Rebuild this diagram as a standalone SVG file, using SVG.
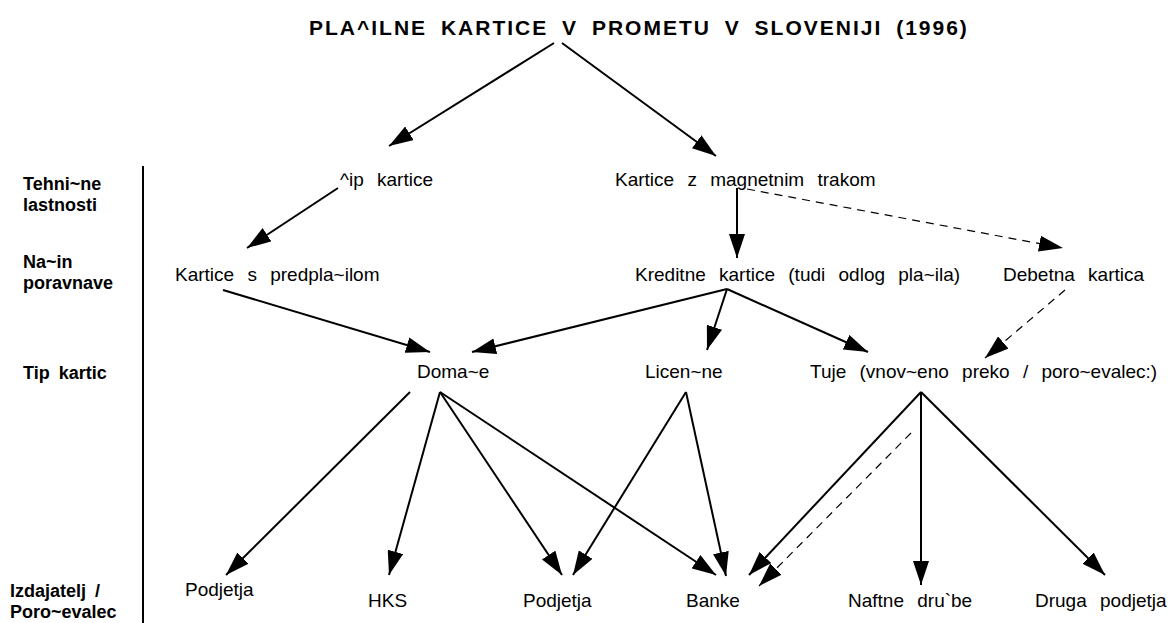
<svg xmlns="http://www.w3.org/2000/svg" width="1173" height="623" viewBox="0 0 1173 623">
<style>
.t{font-family:"Liberation Sans",Arial,sans-serif;font-size:19px;word-spacing:8px;fill:#000}
.lb{font-family:"Liberation Sans",Arial,sans-serif;font-weight:bold;font-size:18px;word-spacing:4px;fill:#000}
.ti{font-family:"Liberation Sans",Arial,sans-serif;font-weight:bold;font-size:21px;letter-spacing:2px;word-spacing:6px;fill:#000}
.c{stroke:#000;stroke-width:2;fill:none;marker-end:url(#ah)}
.d{stroke:#000;stroke-width:1.2;stroke-dasharray:8 6;fill:none;marker-end:url(#ah)}
</style>
<defs>
<marker id="ah" markerUnits="userSpaceOnUse" markerWidth="24" markerHeight="16" refX="24" refY="8" orient="auto">
<path d="M0,0 L24,8 L0,16 z" fill="#000"/>
</marker>
</defs>
<rect width="1173" height="623" fill="#fff"/>
<g id="title"><text class="ti" x="309" y="35">PLA^ILNE KARTICE V PROMETU V SLOVENIJI (1996)</text></g>
<g id="levels">
<line x1="143" y1="166" x2="143" y2="623" stroke="#000" stroke-width="2"/>
<text class="lb" x="23" y="190">Tehni~ne</text>
<text class="lb" x="23" y="211">lastnosti</text>
<text class="lb" x="23" y="268">Na~in</text>
<text class="lb" x="23" y="289">poravnave</text>
<text class="lb" x="23" y="379">Tip kartic</text>
<text class="lb" x="10" y="597">Izdajatelj /</text>
<text class="lb" x="10" y="618">Poro~evalec</text>
</g>
<g id="n-cip"><text class="t" x="340" y="186">^ip kartice</text></g>
<g id="n-mag"><text class="t" x="615" y="186">Kartice z magnetnim trakom</text></g>
<g id="n-pred"><text class="t" x="175" y="281">Kartice s predpla~ilom</text></g>
<g id="n-kred"><text class="t" x="635" y="281">Kreditne kartice (tudi odlog pla~ila)</text></g>
<g id="n-deb"><text class="t" x="1003" y="281">Debetna kartica</text></g>
<g id="n-dom"><text class="t" x="417" y="378">Doma~e</text></g>
<g id="n-lic"><text class="t" x="645" y="378">Licen~ne</text></g>
<g id="n-tuje"><text class="t" x="810" y="378">Tuje (vnov~eno preko / poro~evalec:)</text></g>
<g id="n-podj1"><text class="t" x="185" y="596">Podjetja</text></g>
<g id="n-hks"><text class="t" x="368" y="607">HKS</text></g>
<g id="n-podj2"><text class="t" x="523" y="607">Podjetja</text></g>
<g id="n-banke"><text class="t" x="686" y="607">Banke</text></g>
<g id="n-naft"><text class="t" x="848" y="607">Naftne dru`be</text></g>
<g id="n-druga"><text class="t" x="1035" y="607">Druga podjetja</text></g>
<g id="connectors">
<line class="c" x1="554" y1="43" x2="389" y2="146"/>
<line class="c" x1="562" y1="43" x2="716" y2="156"/>
<line class="c" x1="338" y1="188" x2="247" y2="248"/>
<line class="c" x1="737" y1="188" x2="737" y2="258"/>
<line class="d" x1="747" y1="189" x2="1063" y2="248"/>
<line class="c" x1="223" y1="290" x2="430" y2="352"/>
<line class="c" x1="727" y1="289" x2="472" y2="352"/>
<line class="c" x1="727" y1="289" x2="707" y2="350"/>
<line class="c" x1="727" y1="289" x2="868" y2="352"/>
<line class="d" x1="1065" y1="290" x2="985" y2="358"/>
<line class="c" x1="410" y1="392" x2="226" y2="575"/>
<line class="c" x1="440" y1="392" x2="389" y2="575"/>
<line class="c" x1="440" y1="392" x2="562" y2="575"/>
<line class="c" x1="440" y1="392" x2="716" y2="575"/>
<line class="c" x1="686" y1="392" x2="573" y2="575"/>
<line class="c" x1="686" y1="392" x2="726" y2="576"/>
<line class="c" x1="921" y1="392" x2="749" y2="575"/>
<line class="c" x1="921" y1="392" x2="921" y2="585"/>
<line class="c" x1="921" y1="392" x2="1105" y2="575"/>
<line class="d" x1="911" y1="433" x2="759" y2="586"/>
</g>
</svg>
